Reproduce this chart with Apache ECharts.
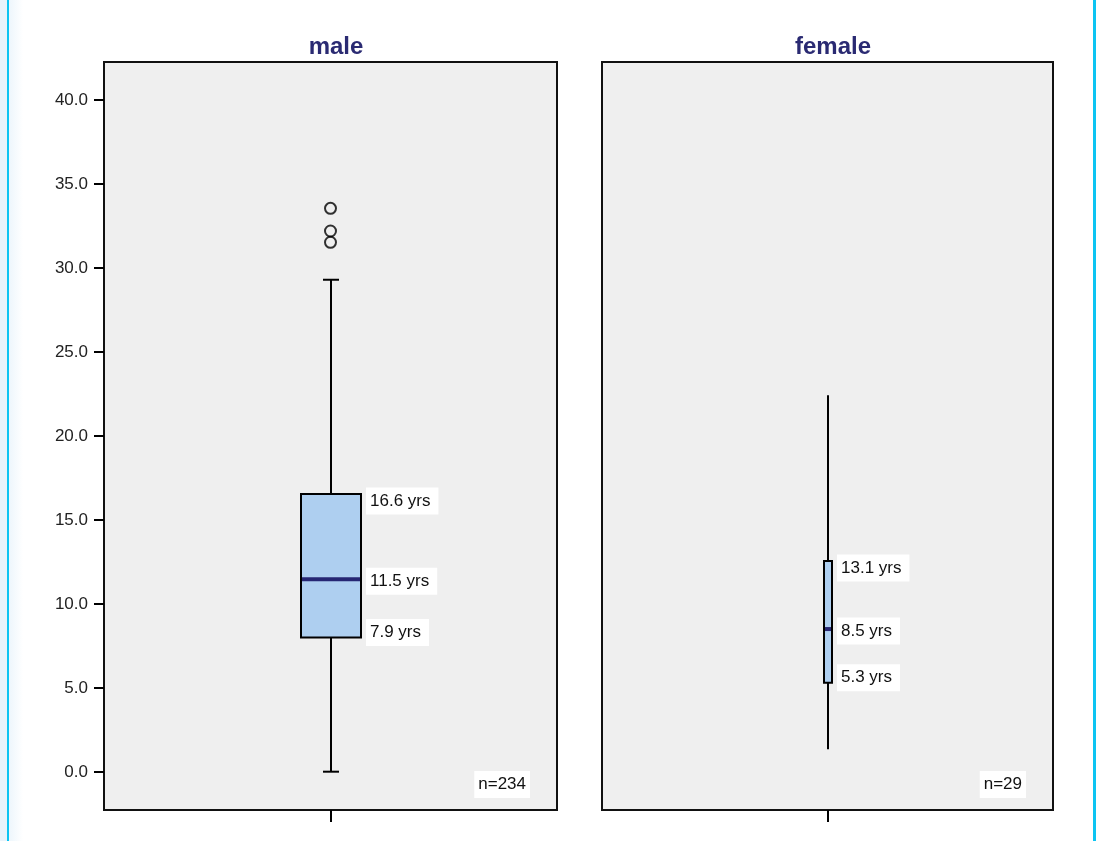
<!DOCTYPE html>
<html>
<head>
<meta charset="utf-8">
<script src="https://cdn.jsdelivr.net/npm/echarts@6/dist/echarts.min.js"></script>
<style>
  html, body { margin: 0; padding: 0; background: #fff; }
  #age_box { width: 1096px; height: 841px; }
</style>
</head>
<body>
<div id="age_box"></div>
<script>
// values: [min, q1, median, q3, max]
var groups = ['male', 'female'];
var maleStats = [0.02, 8.0, 11.47, 16.55, 29.3];
var femaleStats = [1.35, 5.32, 8.51, 12.56, 22.42];
var maleOutliers = [33.55, 32.2, 31.53];
var maleLabels = ['7.9 yrs', '11.5 yrs', '16.6 yrs'];
var femaleLabels = ['5.3 yrs', '8.5 yrs', '13.1 yrs'];
var counts = ['n=234', 'n=29'];
var yTicks = [0, 5, 10, 15, 20, 25, 30, 35, 40];

var labelFont = '17px "Liberation Sans", Arial, sans-serif';

function boxRender(boxW, capW, texts, countText) {
    return function (params, api) {
        var cs = params.coordSys;
        var c = api.value(0);
        var pMin = api.coord([c, api.value(1)]);
        var pQ1 = api.coord([c, api.value(2)]);
        var pMed = api.coord([c, api.value(3)]);
        var pQ3 = api.coord([c, api.value(4)]);
        var pMax = api.coord([c, api.value(5)]);
        var x = Math.round(pMin[0]);
        var line = { stroke: '#000', lineWidth: 2 };
        var kids = [
            { type: 'line', shape: { x1: x, y1: pMax[1], x2: x, y2: pQ3[1] }, style: line },
            { type: 'line', shape: { x1: x, y1: pQ1[1], x2: x, y2: pMin[1] }, style: line },
            { type: 'rect', shape: { x: x - boxW / 2, y: pQ3[1], width: boxW, height: pQ1[1] - pQ3[1] },
              style: { fill: '#aecff0', stroke: '#000', lineWidth: 2 } },
            { type: 'line', shape: { x1: x - boxW / 2 + 1, y1: pMed[1], x2: x + boxW / 2 - 1, y2: pMed[1] },
              style: { stroke: '#262673', lineWidth: 4 } }
        ];
        if (capW > 0) {
            kids.push({ type: 'line', shape: { x1: x - capW / 2, y1: pMax[1], x2: x + capW / 2, y2: pMax[1] }, style: line });
            kids.push({ type: 'line', shape: { x1: x - capW / 2, y1: pMin[1], x2: x + capW / 2, y2: pMin[1] }, style: line });
        }
        var tx = x + boxW / 2 + 5;
        var ys = [pQ1[1] - 5, pMed[1] + 2, pQ3[1] + 7];
        for (var i = 0; i < 3; i++) {
            kids.push({
                type: 'text', x: tx, y: ys[i],
                style: {
                    text: texts[i], font: labelFont, fill: '#111',
                    align: 'left', verticalAlign: 'middle',
                    backgroundColor: '#fff', padding: [5, 8, 5, 4]
                }
            });
        }
        kids.push({
            type: 'text', x: cs.x + cs.width - 27, y: cs.y + cs.height - 12,
            style: {
                text: countText, font: labelFont, fill: '#111',
                align: 'right', verticalAlign: 'bottom',
                backgroundColor: '#fff', padding: [5, 4, 5, 4]
            }
        });
        return { type: 'group', children: kids };
    };
}

var myChart = echarts.init(document.getElementById('age_box'));
myChart.setOption({
    animation: false,
    title: [
        { text: groups[0], left: 331, top: 30, textAlign: 'center',
          textStyle: { fontSize: 24, fontWeight: 'bold', color: '#2a2a72', fontFamily: 'Liberation Sans, Arial' } },
        { text: groups[1], left: 828, top: 30, textAlign: 'center',
          textStyle: { fontSize: 24, fontWeight: 'bold', color: '#2a2a72', fontFamily: 'Liberation Sans, Arial' } }
    ],
    graphic: [
        { type: 'rect', left: 0, top: 0, shape: { width: 7, height: 841 }, style: { fill: '#e8f3fb' } },
        { type: 'rect', left: 9, top: 0, shape: { width: 14, height: 841 },
          style: { fill: new echarts.graphic.LinearGradient(0, 0, 1, 0, [{ offset: 0, color: '#edf6fc' }, { offset: 1, color: '#ffffff' }]) } },
        { type: 'rect', left: 7, top: 0, shape: { width: 2, height: 841 }, style: { fill: '#0cc4f2' } },
        { type: 'rect', left: 1093, top: 0, shape: { width: 3, height: 841 }, style: { fill: '#0cc4f2' } }
    ],
    grid: [
        { left: 104, right: 539, top: 62, bottom: 31, show: true, backgroundColor: '#efefef', borderColor: '#111', borderWidth: 2 },
        { left: 602, right: 43, top: 62, bottom: 31, show: true, backgroundColor: '#efefef', borderColor: '#111', borderWidth: 2 }
    ],
    xAxis: [
        { type: 'category', gridIndex: 0, data: [groups[0]],
          axisLine: { show: false, onZero: false }, axisLabel: { show: false },
          axisTick: { show: true, alignWithLabel: true, length: 12, lineStyle: { color: '#000', width: 2 } } },
        { type: 'category', gridIndex: 1, data: [groups[1]],
          axisLine: { show: false, onZero: false }, axisLabel: { show: false },
          axisTick: { show: true, alignWithLabel: true, length: 12, lineStyle: { color: '#000', width: 2 } } }
    ],
    yAxis: [
        { type: 'value', gridIndex: 0, min: -2.26, max: 42.26,
          axisLine: { show: false }, splitLine: { show: false },
          axisTick: { show: true, length: 10, customValues: yTicks, lineStyle: { color: '#000', width: 2 } },
          axisLabel: { customValues: yTicks, margin: 16, color: '#222', fontSize: 17, fontFamily: 'Liberation Sans, Arial',
                       formatter: function (v) { return v.toFixed(1); } } },
        { type: 'value', gridIndex: 1, min: -2.26, max: 42.26,
          axisLine: { show: false }, splitLine: { show: false },
          axisTick: { show: false }, axisLabel: { show: false } }
    ],
    series: [
        { type: 'custom', xAxisIndex: 0, yAxisIndex: 0,
          renderItem: boxRender(60, 16, maleLabels, counts[0]),
          encode: { x: 0, y: [1, 2, 3, 4, 5] },
          data: [[0].concat(maleStats)] },
        { type: 'custom', xAxisIndex: 1, yAxisIndex: 1,
          renderItem: boxRender(8, 0, femaleLabels, counts[1]),
          encode: { x: 0, y: [1, 2, 3, 4, 5] },
          data: [[0].concat(femaleStats)] },
        { type: 'scatter', xAxisIndex: 0, yAxisIndex: 0,
          symbol: 'circle', symbolSize: 11,
          itemStyle: { color: 'rgba(0,0,0,0)', borderColor: '#000', borderWidth: 2 },
          data: maleOutliers.map(function (v) { return [0, v]; }) }
    ]
});
</script>
</body>
</html>
